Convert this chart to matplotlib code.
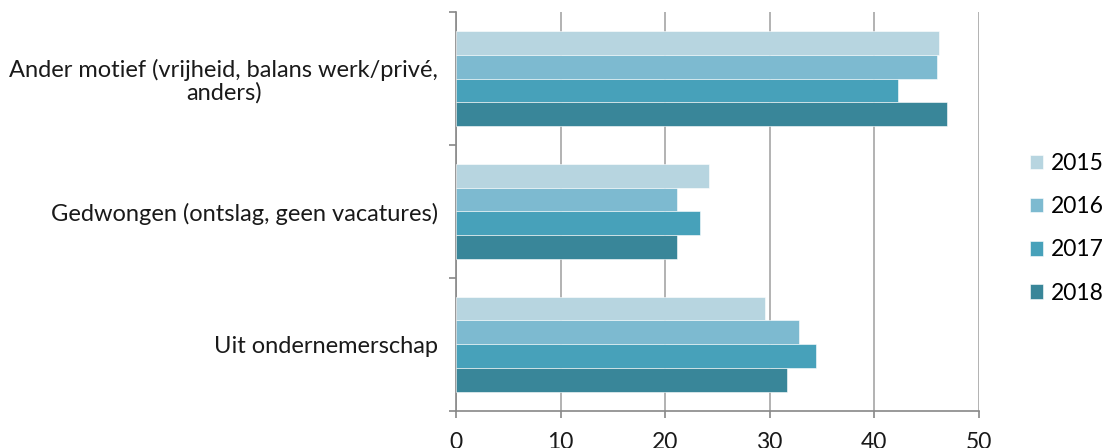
import matplotlib
matplotlib.use("Agg")
import matplotlib.pyplot as plt
import numpy as np

plt.rcParams['font.family'] = ['Lato', 'DejaVu Sans']

categories = ["Ander motief (vrijheid, balans werk/privé,\nanders)",
              "Gedwongen (ontslag, geen vacatures)",
              "Uit ondernemerschap"]
years = ["2015", "2016", "2017", "2018"]
v2015 = [46.2, 24.2, 29.6]
v2016 = [46.0, 21.1, 32.8]
v2017 = [42.3, 23.3, 34.4]
v2018 = [47.0, 21.1, 31.7]
series = [v2015, v2016, v2017, v2018]
colors = ["#b7d5e0", "#7dbad0", "#47a1ba", "#398699"]
xticks = [0, 10, 20, 30, 40, 50]

fig = plt.figure(figsize=(11.07, 4.48), dpi=100)
ax = fig.add_axes([0.412, 0.083, 0.472, 0.89])

n = len(years)
h = 0.18
pos = np.arange(len(categories))
for i, (yr, vals, c) in enumerate(zip(years, series, colors)):
    offs = (i - (n - 1) / 2) * h
    ax.barh(pos + offs, vals, height=h, color=c, label=yr,
            edgecolor='white', linewidth=0.4, zorder=3)

ax.set_xlim(0, 50)
ax.set_ylim(len(categories) - 0.5, -0.5)
ax.set_xticks(xticks)
ax.set_xticklabels([str(t) for t in xticks], fontsize=16.5, color='#1a1a1a')
ax.set_yticks(pos)
ax.set_yticklabels(categories, fontsize=17, color='#1a1a1a',
                   multialignment='center', linespacing=1.05)
ax.set_yticks(np.arange(-0.5, len(categories), 1.0), minor=True)
ax.tick_params(axis='y', which='major', length=0, pad=13)
ax.tick_params(axis='y', which='minor', length=5, color='#888888', width=1.2, direction='out')
ax.tick_params(axis='x', length=5, color='#888888', width=1.2, direction='out', pad=10)
ax.grid(axis='x', color='#a6a6a6', linewidth=1.2, zorder=0)
ax.set_axisbelow(True)
for s in ['top', 'right']:
    ax.spines[s].set_visible(False)
for s in ['left', 'bottom']:
    ax.spines[s].set_color('#888888')
    ax.spines[s].set_linewidth(1.2)

leg = ax.legend(loc='center left', bbox_to_anchor=(1.08, 0.458), frameon=False,
                fontsize=16.5, handlelength=0.6, handleheight=0.6,
                handletextpad=0.35, labelspacing=0.97, borderaxespad=0)
fig.savefig("out.png", dpi=100)
